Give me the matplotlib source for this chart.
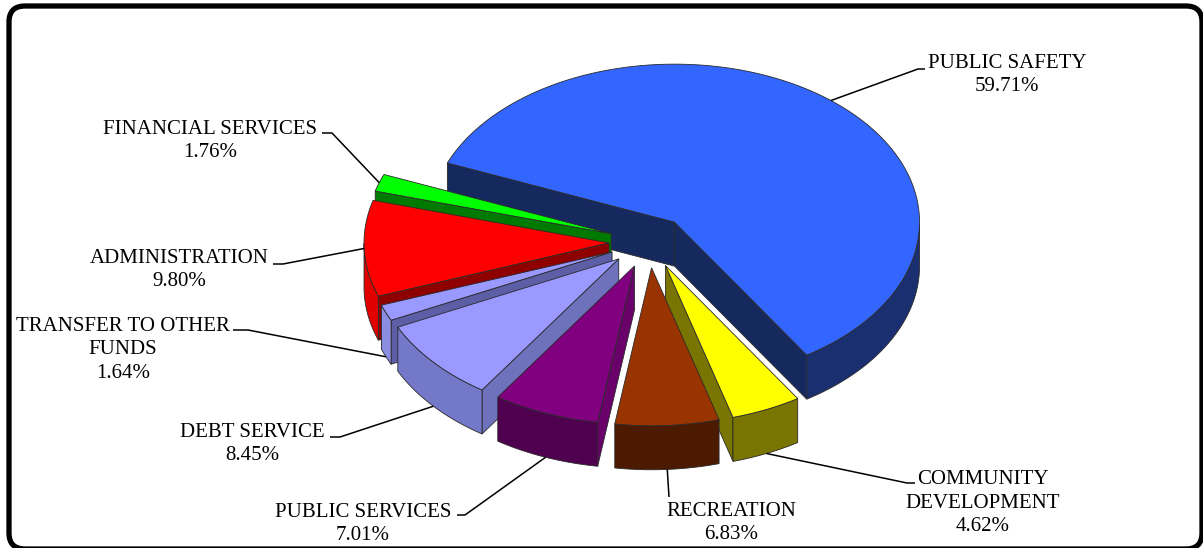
"""Exploded 3-D style pie of the general fund expenditure split."""

import numpy as np
import matplotlib
matplotlib.use("Agg")
import matplotlib.pyplot as plt
from matplotlib.patches import Polygon, FancyBboxPatch

categories = ["PUBLIC SAFETY", "COMMUNITY\nDEVELOPMENT", "RECREATION",
              "PUBLIC SERVICES", "DEBT SERVICE", "TRANSFER TO OTHER\nFUNDS",
              "ADMINISTRATION", "FINANCIAL SERVICES"]
shares = [59.71, 4.62, 6.83, 7.01, 8.45, 1.64, 9.80, 1.76]

top_colors = ["#3366FF", "#FFFF00", "#993300", "#800080",
              "#9999FF", "#9999FF", "#FF0000", "#00FF00"]
wall_colors = ["#1A2F70", "#7A7500", "#4B1A00", "#4F004F",
               "#7478C8", "#8A8DE0", "#E00000", "#00C000"]
face_colors = ["#16295F", "#7A7500", "#4B1A00", "#6A006A",
               "#6E72BC", "#5C5FA6", "#8E0000", "#007A00"]

# pixel-space layout of the pie
CX, CY = 649, 242
RX, RY = 245, 158
DEPTH = 44
EXPLODE = 40
START = 158.0

# label centres and the elbow where each leader line turns flat
label_pos = [(1007, 75), (983, 503), (731, 523), (363, 524),
             (252, 444), (123, 350), (179, 270), (210, 141)]
elbows = [((918, 69), (925, 69)), ((907, 483), (915, 483)),
          ((669, 497), (669, 497)), ((465, 515), (457, 515)),
          ((340, 437), (330, 437)), ((248, 330), (233, 330)),
          ((283, 264), (273, 264)), ((332, 133), (322, 133))]


def rim(ox, oy, deg):
    t = np.radians(deg)
    return ox + RX * np.cos(t), oy - RY * np.sin(t)


fig = plt.figure(figsize=(12.03, 5.48), dpi=100)
ax = fig.add_axes([0, 0, 1, 1])
ax.set_xlim(0, 1203)
ax.set_ylim(548, 0)
ax.axis("off")

spans = np.array(shares) / sum(shares) * 360.0
hi = START - np.concatenate([[0], np.cumsum(spans)[:-1]])
lo = hi - spans
mid = (hi + lo) / 2

edge = dict(edgecolor="#2a2a2a", linewidth=0.6)
order = np.argsort(-np.sin(np.radians(mid)))
z = 1
for i in order:
    m = np.radians(mid[i])
    ox = CX + EXPLODE * np.cos(m)
    oy = CY - EXPLODE * RY / RX * np.sin(m)

    # cut faces that turn toward the viewer
    for deg, show in ((hi[i], np.cos(np.radians(hi[i])) < 0),
                      (lo[i], np.cos(np.radians(lo[i])) > 0)):
        if not show:
            continue
        rx_, ry_ = rim(ox, oy, deg)
        pts = [(ox, oy), (rx_, ry_), (rx_, ry_ + DEPTH), (ox, oy + DEPTH)]
        ax.add_patch(Polygon(pts, closed=True, facecolor=face_colors[i],
                             zorder=z, **edge))
        z += 1

    # outer wall on the front half
    ts = np.linspace(lo[i], hi[i], 200)
    front = np.sin(np.radians(ts)) < 0
    if front.any():
        idx = np.where(front)[0]
        runs = np.split(idx, np.where(np.diff(idx) > 1)[0] + 1)
        for run in runs:
            xs, ys = rim(ox, oy, ts[run])
            pts = np.column_stack([np.r_[xs, xs[::-1]],
                                   np.r_[ys, ys[::-1] + DEPTH]])
            ax.add_patch(Polygon(pts, closed=True, facecolor=wall_colors[i],
                                 zorder=z, **edge))
            z += 1

    # top face
    xs, ys = rim(ox, oy, np.linspace(hi[i], lo[i], 200))
    pts = np.column_stack([np.r_[ox, xs], np.r_[oy, ys]])
    ax.add_patch(Polygon(pts, closed=True, facecolor=top_colors[i],
                         zorder=z, **edge))
    z += 1

    # leader line from the slice to its label
    px, py = rim(ox, oy, mid[i])
    if np.sin(m) < -0.2:
        py += DEPTH
    (ex, ey), (fx, fy) = elbows[i]
    ax.plot([px, ex, fx], [py, ey, fy], color="black", lw=1.1,
            zorder=100, solid_capstyle="butt")

    lx, ly = label_pos[i]
    ax.text(lx, ly, f"{categories[i]}\n{shares[i]:.2f}%", ha="center",
            va="center", multialignment="center", fontsize=15,
            family="Liberation Serif", linespacing=1.3, zorder=101)

frame = FancyBboxPatch((9, 6), 1193, 543, boxstyle="round,pad=0,rounding_size=16",
                       facecolor="none", edgecolor="black", linewidth=3.8,
                       clip_on=False, zorder=200)
ax.add_patch(frame)

fig.savefig("out.png", dpi=100, facecolor="white")
